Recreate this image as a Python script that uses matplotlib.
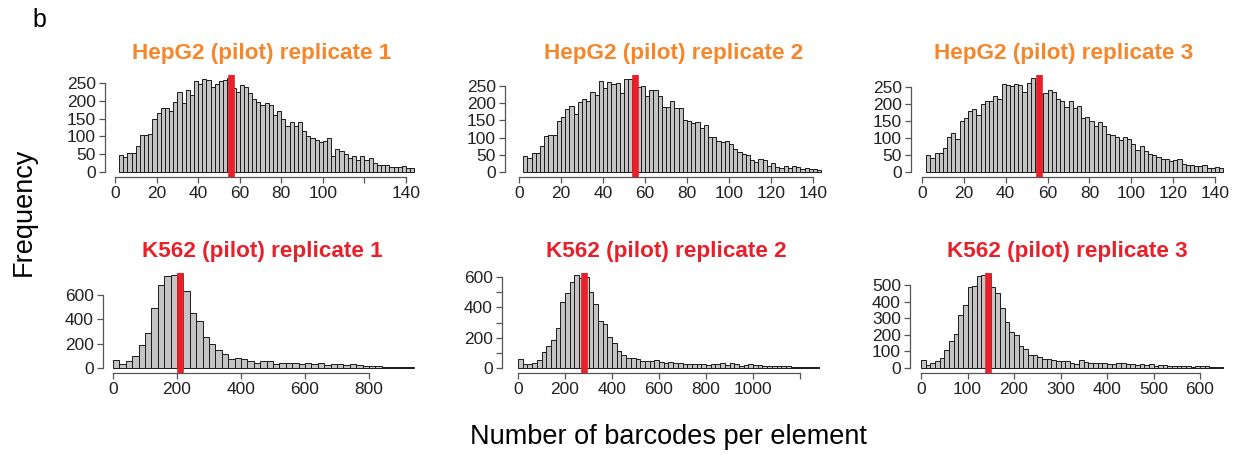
import matplotlib
matplotlib.use('Agg')
import matplotlib.pyplot as plt
import numpy as np

# histogram counts (bin start, bin width, counts)
hep1_start, hep1_width = 2, 2
hep1_counts = [49, 42, 54, 54, 73, 103, 105, 106, 148, 165, 179, 179, 172, 198, 225, 193,
               229, 217, 255, 248, 262, 259, 239, 248, 255, 259, 265,
               236, 224, 245, 240, 222, 206, 197, 189, 195, 189, 160, 170, 150, 130, 140,
               130, 140, 115, 100, 95, 90, 85, 88, 95, 45, 65, 60, 50, 40, 45, 35, 45, 35,
               40, 25, 20, 20, 20, 15, 15, 15, 17, 12, 10]
hep1_median = 56

hep2_start, hep2_width = 2, 2
hep2_counts = [47, 42, 55, 56, 75, 105, 107, 109, 147, 160, 182, 191, 170, 203, 211, 206,
               234, 225, 265, 244, 262, 255, 259, 231, 269, 269, 270,
               247, 250, 222, 238, 238, 220, 189, 189, 206, 187, 187, 152, 147, 142, 145,
               128, 136, 102, 102, 89, 87, 90, 80, 66, 58, 51, 48, 34, 29, 39, 34, 16, 27,
               15, 13, 16, 13, 16, 15, 10, 13, 10, 8, 7]
hep2_median = 55

hep3_start, hep3_width = 2, 2
hep3_counts = [51, 41, 57, 56, 72, 102, 114, 97, 151, 160, 178, 186, 168, 200, 210, 208,
               224, 215, 259, 255, 254, 260, 257, 235, 262, 275, 262,
               230, 232, 242, 235, 215, 208, 191, 208, 188, 195, 158, 161, 150, 136, 148,
               136, 112, 109, 102, 94, 102, 96, 81, 66, 76, 62, 54, 51, 44, 38, 37, 33, 35,
               37, 25, 20, 20, 17, 17, 20, 13, 13, 15, 13]
hep3_median = 56

k1_start, k1_width = 0, 20
k1_counts = [63, 30, 55, 99, 186, 288, 496, 680, 759, 767, 775, 630, 452, 386, 255, 195,
             145, 112, 77, 82, 71, 55, 44, 55, 55, 36,
             45, 40, 40, 35, 38, 30, 38, 28, 30, 35, 25, 30, 22, 20, 18, 20, 12, 10, 8, 8, 6]
k1_median = 208

k2_start, k2_width = 0, 20
k2_counts = [62, 24, 24, 35, 55, 106, 144, 184, 265, 434, 493, 564, 613, 593, 600, 500,
             420, 310, 288, 206, 162, 113, 88, 69, 66, 58,
             48, 45, 45, 50, 38, 30, 42, 35, 30, 28, 28, 25, 27, 25, 22, 25, 28, 30, 22, 32,
             25, 15, 20, 25, 18, 17, 12, 12, 10, 13, 14, 12, 8, 8, 7, 8, 6, 5]
k2_median = 282

k3_start, k3_width = 0, 10
k3_counts = [50, 20, 32, 42, 62, 107, 161, 202, 318, 379, 486, 496, 556, 562, 565, 486,
             450, 359, 278, 214, 198, 133, 113, 81, 81, 66, 56, 56, 50, 42, 42, 42, 32, 26,
             46, 36,
             32, 28, 28, 30, 25, 22, 28, 30, 25, 22, 20, 22, 18, 22, 15, 20, 18, 15, 12, 12,
             10, 10, 8, 10, 12, 10, 8, 8, 6]
k3_median = 144

hep_titles = ['HepG2 (pilot) replicate 1', 'HepG2 (pilot) replicate 2', 'HepG2 (pilot) replicate 3']
k_titles = ['K562 (pilot) replicate 1', 'K562 (pilot) replicate 2', 'K562 (pilot) replicate 3']

W, H = 1238, 455
ORANGE = '#F5862A'
RED = '#E8202A'

plt.rcParams['font.family'] = ['Liberation Sans', 'DejaVu Sans']
fig = plt.figure(figsize=(W / 100, H / 100), dpi=100)


def panel(counts, start, width, median, title, tcolor, tpos,
          left, bottom, top, right, x0, sx, y0, sy,
          xticks, xlabels, yticks, ylabels):
    ax = fig.add_axes([left / W, 1 - bottom / H, (right - left) / W, (bottom - top) / H])
    edges = start + width * np.arange(len(counts))
    ax.bar(edges, counts, width=width, align='edge', color='#c4c4c4',
           edgecolor='#1a1a1a', linewidth=0.7)
    ax.axvline(median, color=RED, linewidth=4.8, zorder=3)
    ax.set_xlim((left - x0) / sx, (right - x0) / sx)
    ax.set_ylim((y0 - bottom) / sy, (y0 - top) / sy)
    for s in ['top', 'right']:
        ax.spines[s].set_visible(False)
    for s in ['left', 'bottom']:
        ax.spines[s].set_color('#555555')
        ax.spines[s].set_linewidth(0.9)
    ax.spines['left'].set_bounds(yticks[0], yticks[-1])
    ax.spines['bottom'].set_bounds(xticks[0], xticks[-1])
    ax.set_xticks(xticks)
    ax.set_xticklabels(xlabels)
    ax.set_yticks(yticks)
    ax.set_yticklabels(ylabels)
    ax.tick_params(length=4.5, width=0.9, color='#555555', labelsize=12.5,
                   labelcolor='#222222', pad=2)
    fig.text(tpos[0] / W, 1 - tpos[1] / H, title, color=tcolor, fontsize=16.2,
             fontweight='bold', ha='center', va='center')
    return ax


hep_x = list(range(0, 141, 20))
hep_y = list(range(0, 251, 50))
hep_yl = [str(v) for v in hep_y]

panel(hep1_counts, hep1_start, hep1_width, hep1_median, hep_titles[0], ORANGE, (262, 53),
      105, 177, 75, 420, 115, 291 / 140, 172, 89 / 250,
      hep_x, ['' if v == 120 else str(v) for v in hep_x], hep_y, hep_yl)
panel(hep2_counts, hep2_start, hep2_width, hep2_median, hep_titles[1], ORANGE, (674, 53),
      505, 177, 75, 826, 519, 294 / 140, 172, 86 / 250,
      hep_x, [str(v) for v in hep_x], hep_y, hep_yl)
panel(hep3_counts, hep3_start, hep3_width, hep3_median, hep_titles[2], ORANGE, (1064, 53),
      911, 177, 75, 1228, 922, 293 / 140, 172, 85 / 250,
      hep_x, [str(v) for v in hep_x], hep_y, hep_yl)

k1_x = list(range(0, 801, 200))
k1_y = list(range(0, 601, 200))
panel(k1_counts, k1_start, k1_width, k1_median, k_titles[0], RED, (262, 251),
      103, 373, 273, 418, 113, 256 / 800, 368, 73 / 600,
      k1_x, [str(v) for v in k1_x], k1_y, [str(v) for v in k1_y])

k2_x = list(range(0, 1201, 200))
k2_y = list(range(0, 601, 100))
panel(k2_counts, k2_start, k2_width, k2_median, k_titles[1], RED, (666, 251),
      502, 373, 273, 823, 518, 235 / 1000, 368, 91 / 600,
      k2_x, ['' if v == 1200 else str(v) for v in k2_x], k2_y,
      [str(v) if v % 200 == 0 else '' for v in k2_y])

k3_x = list(range(0, 601, 100))
k3_y = list(range(0, 501, 100))
panel(k3_counts, k3_start, k3_width, k3_median, k_titles[2], RED, (1067, 251),
      910, 373, 273, 1228, 921, 279 / 600, 368, 83 / 500,
      k3_x, [str(v) for v in k3_x], k3_y, [str(v) for v in k3_y])

fig.text(39 / W, 1 - 20 / H, 'b', fontsize=18, ha='center', va='center')
fig.text(24 / W, 1 - 212 / H, 'Frequency', fontsize=19.5, rotation=90,
         ha='center', va='center')
fig.text(668 / W, 1 - 437 / H, 'Number of barcodes per element', fontsize=19.5,
         ha='center', va='center')

fig.savefig('out.png', dpi=100)
